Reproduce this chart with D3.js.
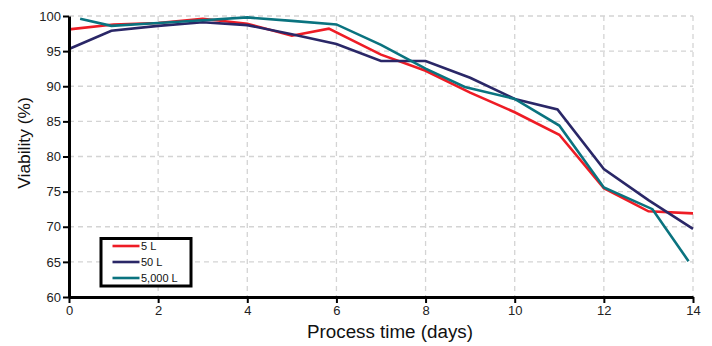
<!DOCTYPE html>
<html>
<head>
<meta charset="utf-8">
<script src="https://cdn.jsdelivr.net/npm/d3@7"></script>
<style>
  body { margin: 0; background: #fff; }
  svg { display: block; font-family: "Liberation Sans", Arial, sans-serif; }
</style>
</head>
<body>
<div id="chart"></div>
<script>
'use strict'

const days = [0, 1, 2, 3, 4, 5, 5.83, 7, 8, 9, 10, 11, 12, 13, 14]
const viab5L = [98.1, 98.8, 99.0, 99.6, 98.9, 97.2, 98.2, 94.5, 92.2, 89.1, 86.3, 83.1, 75.5, 72.2, 71.9]

const days50 = [0, 0.95, 2, 3, 4, 5, 6, 7, 8, 9, 10, 10.96, 12, 13, 14]
const viab50L = [95.3, 97.9, 98.6, 99.1, 98.7, 97.4, 96.0, 93.6, 93.6, 91.2, 88.2, 86.7, 78.2, 73.8, 69.7]

const days5000 = [0.25, 0.95, 2, 3, 4, 5, 6, 7, 8, 8.88, 10, 11, 12, 13.09, 13.9]
const viab5000L = [99.6, 98.6, 99.0, 99.4, 99.8, 99.3, 98.8, 95.9, 92.5, 89.9, 88.2, 84.4, 75.6, 72.5, 65.1]

const xTicks = [0, 2, 4, 6, 8, 10, 12, 14]
const yTicks = [60, 65, 70, 75, 80, 85, 90, 95, 100]

const series = [
  { name: '5 L', color: '#ee1c25', x: days, y: viab5L },
  { name: '50 L', color: '#2a2767', x: days50, y: viab50L },
  { name: '5,000 L', color: '#0a737f', x: days5000, y: viab5000L }
]

const width = 712
const height = 346
const margin = { top: 16, right: 19, bottom: 49, left: 69 }

const svg = d3.select('#chart').append('svg')
  .attr('width', width)
  .attr('height', height)

const x = d3.scaleLinear()
  .domain([0, 14])
  .range([margin.left, width - margin.right])

const y = d3.scaleLinear()
  .domain([60, 100])
  .range([height - margin.bottom, margin.top])

// dashed grid
svg.append('g')
  .selectAll('line')
  .data(xTicks.slice(1))
  .enter().append('line')
    .attr('x1', d => x(d)).attr('x2', d => x(d))
    .attr('y1', y(100)).attr('y2', y(60))
    .attr('stroke', '#d4d4d4')
    .attr('stroke-width', 1.3)
    .attr('stroke-dasharray', '5,4')

svg.append('g')
  .selectAll('line')
  .data(yTicks.slice(1))
  .enter().append('line')
    .attr('x1', x(0)).attr('x2', x(14))
    .attr('y1', d => y(d)).attr('y2', d => y(d))
    .attr('stroke', '#d4d4d4')
    .attr('stroke-width', 1.3)
    .attr('stroke-dasharray', '5,4')

// lines
const line = d3.line()
  .x(d => x(d[0]))
  .y(d => y(d[1]))

series.forEach(function (s) {
  svg.append('path')
    .datum(s.x.map((v, i) => [v, s.y[i]]))
    .attr('fill', 'none')
    .attr('stroke', s.color)
    .attr('stroke-width', 2.6)
    .attr('stroke-linejoin', 'miter')
    .attr('d', line)
})

// axes
const xAxis = svg.append('g')
  .attr('transform', `translate(0,${y(60)})`)
  .call(d3.axisBottom(x).tickValues(xTicks).tickSize(6).tickSizeOuter(0).tickPadding(3))
xAxis.select('.domain').attr('stroke', '#000').attr('stroke-width', 3)
xAxis.selectAll('.tick line').attr('stroke', '#000').attr('stroke-width', 2)
xAxis.selectAll('text').attr('font-size', 13).attr('fill', '#222')

const yAxis = svg.append('g')
  .attr('transform', `translate(${x(0)},0)`)
  .call(d3.axisLeft(y).tickValues(yTicks).tickSize(6).tickSizeOuter(0).tickPadding(2))
yAxis.select('.domain').attr('stroke', '#000').attr('stroke-width', 3)
yAxis.selectAll('.tick line').attr('stroke', '#000').attr('stroke-width', 2)
yAxis.selectAll('text').attr('font-size', 13).attr('fill', '#222')

// titles
svg.append('text')
  .attr('x', 390)
  .attr('y', 338)
  .attr('text-anchor', 'middle')
  .attr('font-size', 18.8)
  .attr('fill', '#111')
  .text('Process time (days)')

svg.append('text')
  .attr('transform', `translate(30,143) rotate(-90)`)
  .attr('text-anchor', 'middle')
  .attr('font-size', 17.4)
  .attr('fill', '#111')
  .text('Viability (%)')

// legend
const legend = svg.append('g')
legend.append('rect')
  .attr('x', 101).attr('y', 238.5)
  .attr('width', 90).attr('height', 47.5)
  .attr('fill', '#fff')
  .attr('stroke', '#000')
  .attr('stroke-width', 3)

const rows = legend.selectAll('.row')
  .data(series)
  .enter().append('g')
    .attr('transform', (d, i) => `translate(0,${246 + i * 16})`)

rows.append('line')
  .attr('x1', 112.5).attr('x2', 139.5)
  .attr('stroke', d => d.color)
  .attr('stroke-width', 2.6)

rows.append('text')
  .attr('x', 141)
  .attr('y', 4)
  .attr('font-size', 11)
  .attr('fill', '#111')
  .text(d => d.name)
</script>
</body>
</html>
